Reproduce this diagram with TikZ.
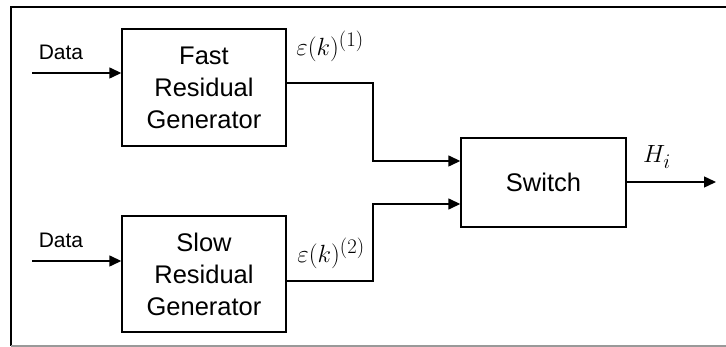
\documentclass[tikz,border=0pt]{standalone}
\usepackage{fontspec}
\setmainfont{Liberation Sans}
\usetikzlibrary{arrows.meta}
\begin{document}
\begin{tikzpicture}[x=1pt,y=-1pt,
  blockbox/.style={draw, line width=1.4pt, inner sep=0pt, align=center,
    font=\fontsize{25.5}{32}\selectfont},
  arr/.style={line width=1.4pt, -{Triangle[length=12pt,width=11pt]}},
  lbl/.style={inner sep=0pt, font=\fontsize{21}{24}\selectfont},
  mathlbl/.style={inner sep=0pt, font=\fontsize{30}{34}\selectfont}]
\useasboundingbox (0,0) rectangle (726,347);
% outer frame
\draw[line width=1.8pt] (11,346) -- (11,7) -- (732,7);
\draw[line width=1.4pt, black!40] (11,346) -- (732,346);

% blocks
\node[blockbox, minimum width=164pt, minimum height=117pt] (fast) at (204,87.5)
  {Fast\\Residual\\Generator};
\node[blockbox, minimum width=164pt, minimum height=116pt] (slow) at (204,274)
  {Slow\\Residual\\Generator};
\node[blockbox, minimum width=165pt, minimum height=89pt] (switch) at (543.5,182.5)
  {Switch};

% inputs
\coordinate (in1) at (32,73);
\coordinate (in2) at (32,261);
\draw[arr] (in1) -- (in1 -| fast.west);
\draw[arr] (in2) -- (in2 -| slow.west);
\node[lbl] (data1) at (61,52) {Data};
\node[lbl] (data2) at (61,240) {Data};

% residuals to the switch
\coordinate (j1) at (373,161);
\coordinate (j2) at (373,204);
\draw[arr] ([yshift=4.5pt]fast.east) -| (j1) -- (j1 -| switch.west);
\draw[arr] ([yshift=-7pt]slow.east) -| (j2) -- (j2 -| switch.west);
\node[mathlbl] (eps1) at (330,46) {$\varepsilon(k)^{(1)}$};
\node[mathlbl] (eps2) at (331,253) {$\varepsilon(k)^{(2)}$};

% output
\coordinate (out) at (716,182);
\draw[arr] (switch.east |- out) -- (out);
\node[mathlbl] (hi) at (657,157) {$H_i$};
\end{tikzpicture}
\end{document}
